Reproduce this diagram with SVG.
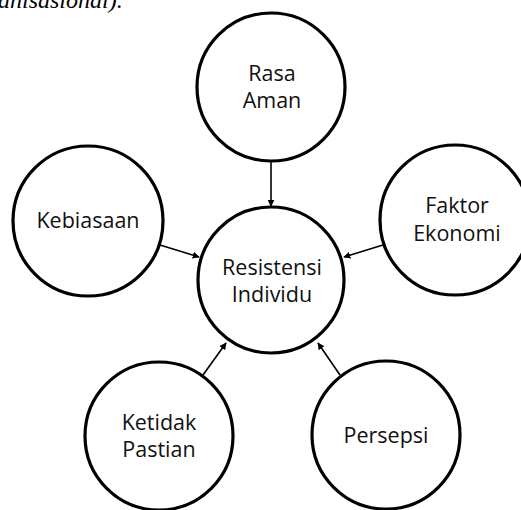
<svg xmlns="http://www.w3.org/2000/svg" width="521" height="510" viewBox="0 0 521 510">
<style>
.node circle{fill:#fff;stroke:#000;stroke-width:3.2}
.node text{font-family:"Open Sans","Noto Sans",sans-serif;font-size:21.5px;font-weight:500;fill:#111;text-anchor:middle}
.conn line{stroke:#000;stroke-width:1.6;marker-end:url(#arr)}
.cap{font-family:"Liberation Serif",serif;font-style:italic;font-size:24px;fill:#000}
</style>
<defs>
<marker id="arr" viewBox="0 0 10 10" refX="9" refY="5" markerWidth="7" markerHeight="7" markerUnits="userSpaceOnUse" orient="auto">
<path d="M0,0 L10,5 L0,10 z" fill="#000"/>
</marker>
</defs>
<rect width="521" height="510" fill="#fff"/>
<text class="cap" x="-2" y="8">anisasional).</text>
<g class="conn">
<line x1="271" y1="161" x2="271" y2="206"/>
<line x1="160" y1="245" x2="199" y2="257"/>
<line x1="383" y1="245" x2="344" y2="257"/>
<line x1="203" y1="375" x2="226" y2="343"/>
<line x1="340" y1="375" x2="318" y2="343"/>
</g>
<g id="rasa-aman" class="node"><circle cx="271" cy="87" r="74"/><text x="272" y="81">Rasa</text><text x="272" y="108">Aman</text></g>
<g id="resistensi" class="node"><circle cx="271" cy="280" r="73"/><text x="272" y="275">Resistensi</text><text x="272" y="302">Individu</text></g>
<g id="kebiasaan" class="node"><circle cx="88" cy="221" r="75"/><text x="88" y="228">Kebiasaan</text></g>
<g id="faktor-ekonomi" class="node"><circle cx="455" cy="220" r="75"/><text x="457" y="213">Faktor</text><text x="457" y="241">Ekonomi</text></g>
<g id="ketidak-pastian" class="node"><circle cx="159" cy="436" r="74"/><text x="159" y="430">Ketidak</text><text x="159" y="457">Pastian</text></g>
<g id="persepsi" class="node"><circle cx="386" cy="435" r="74"/><text x="386" y="443">Persepsi</text></g>
</svg>
